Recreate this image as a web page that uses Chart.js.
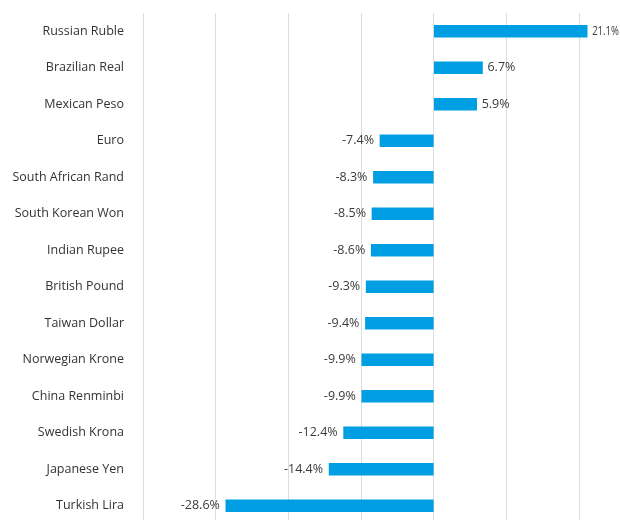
<!DOCTYPE html>
<html>
<head>
<meta charset="utf-8">
<script src="https://cdn.jsdelivr.net/npm/chart.js@4"></script>
<style>
  html, body { margin: 0; padding: 0; background: #fff; overflow: hidden; }
  #wrap { width: 620px; height: 524px; position: relative; }
</style>
</head>
<body>
<div id="wrap"><canvas id="c"></canvas></div>
<script>
// Currency performance vs. US dollar, % change
const currencies = [
  "Russian Ruble", "Brazilian Real", "Mexican Peso", "Euro",
  "South African Rand", "South Korean Won", "Indian Rupee", "British Pound",
  "Taiwan Dollar", "Norwegian Krone", "China Renminbi", "Swedish Krona",
  "Japanese Yen", "Turkish Lira"
];
const changePct = [21.1, 6.7, 5.9, -7.4, -8.3, -8.5, -8.6, -9.3, -9.4, -9.9, -9.9, -12.4, -14.4, -28.6];
const gridSteps = [-40, -30, -20, -10, 0, 10, 20];

const FONT = "'Open Sans', sans-serif";

// Writes each bar's value just past its end
const valueLabels = {
  id: 'valueLabels',
  afterDatasetsDraw(chart) {
    const { ctx } = chart;
    const meta = chart.getDatasetMeta(0);
    ctx.save();
    ctx.font = "12.5px " + FONT;
    ctx.fillStyle = "#3a3a3a";
    ctx.textBaseline = "middle";
    meta.data.forEach((bar, i) => {
      const v = changePct[i];
      const text = v.toFixed(1) + "%";
      if (v >= 0) {
        ctx.textAlign = "left";
        const x = bar.x + 5;
        ctx.fillText(text, x, bar.y, chart.width - x - 1);
      } else {
        ctx.textAlign = "right";
        ctx.fillText(text, bar.x - 6, bar.y);
      }
    });
    ctx.restore();
  }
};

new Chart(document.getElementById('c'), {
  type: 'bar',
  data: {
    labels: currencies,
    datasets: [{
      data: changePct,
      backgroundColor: '#009fe3',
      borderWidth: 0,
      barThickness: 12
    }]
  },
  options: {
    indexAxis: 'y',
    responsive: true,
    maintainAspectRatio: false,
    animation: false,
    layout: { padding: { top: 13, right: 4.5, bottom: 0, left: 0 } },
    plugins: { legend: { display: false }, tooltip: { enabled: false } },
    scales: {
      x: {
        type: 'linear',
        min: -40,
        max: 25,
        position: 'bottom',
        afterBuildTicks(scale) {
          scale.ticks = gridSteps.map(v => ({ value: v }));
        },
        afterFit(scale) {
          scale.height = 0;
          scale.paddingLeft = scale.paddingRight = 0;
        },
        ticks: { display: false },
        grid: { color: '#dcdcdc', lineWidth: 1, drawTicks: false },
        border: { display: false }
      },
      y: {
        afterFit(scale) {
          scale.width = 143;
          scale.paddingTop = scale.paddingBottom = 0;
        },
        ticks: {
          color: '#333333',
          padding: 19,
          font: { family: FONT, size: 12.5 }
        },
        grid: { display: false, drawTicks: false },
        border: { display: false }
      }
    }
  },
  plugins: [valueLabels]
});
</script>
</body>
</html>
